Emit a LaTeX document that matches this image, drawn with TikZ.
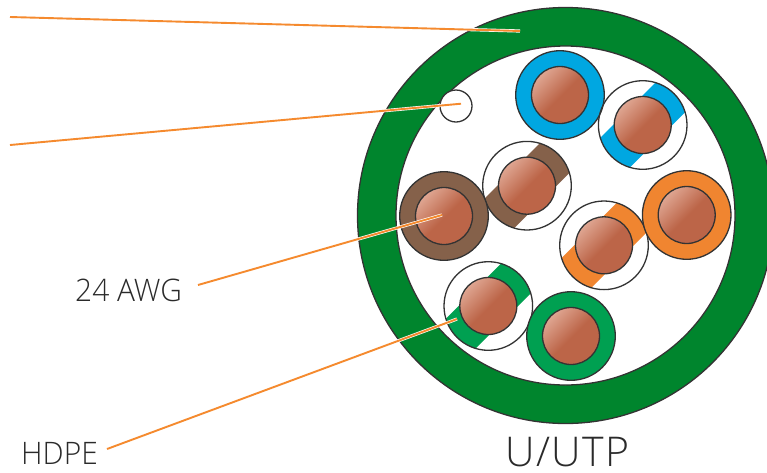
\documentclass[tikz,border=0pt]{standalone}
\usepackage{fontspec}
\setmainfont{Open Sans Light}
\newfontfamily\labelfont{Open Sans Light}[FakeStretch=0.965]
\newfontfamily\titlefont{Open Sans Light}[LetterSpace=3.5]
\definecolor{sheath}{HTML}{00852D}
\definecolor{inkc}{HTML}{333333}
\definecolor{textc}{HTML}{2A2A2A}
\definecolor{wblue}{HTML}{00A7E1}
\definecolor{worange}{HTML}{F08530}
\definecolor{wbrown}{HTML}{85614A}
\definecolor{wgreen}{HTML}{00A051}
\definecolor{cuD}{HTML}{BC6548}
\definecolor{cuL}{HTML}{DFA692}
\definecolor{leadc}{HTML}{F58A2E}
\pgfdeclareverticalshading{copper}{100bp}{color(0bp)=(cuD); color(49bp)=(cuD); color(75bp)=(cuL); color(100bp)=(cuL)}
\tikzset{
  outline/.style={draw=inkc,line width=1.3pt},
  core/.style={outline,shading=copper,shading angle=45},
  halo/.style={draw=white,line width=3.2pt},
  leader/.style={draw=leadc,line width=1.9pt},
  label/.style={inner sep=0pt,anchor=base west,text=textc,font=\labelfont\fontsize{31}{31}\selectfont}
}
\newcommand{\wiresolid}[3]{%
  \fill[#3] (#1,#2) circle[radius=44.3];
  \draw[outline] (#1,#2) circle[radius=44.3];
  \draw[core] (#1,#2) circle[radius=28.5];
}
\newcommand{\wirestripe}[3]{%
  \begin{scope}
    \clip (#1,#2) circle[radius=44.3];
    \fill[#3] ({#1+50.25},{#2-20.55}) -- ({#1+20.55},{#2-50.25}) -- ({#1-50.25},{#2+20.55}) -- ({#1-20.55},{#2+50.25}) -- cycle;
  \end{scope}
  \draw[outline] (#1,#2) circle[radius=44.3];
  \draw[core] (#1,#2) circle[radius=28.5];
}
\begin{document}
\begin{tikzpicture}[x=1pt,y=-1pt]
\useasboundingbox (0,0) rectangle (767,472);
\clip (0,0) rectangle (767,472);
\fill[white] (0,0) rectangle (767,472);
% cable jacket
\draw[outline,fill=sheath] (565.5,215.5) circle[radius=208];
\draw[outline,fill=white] (565.5,215.5) circle[radius=169.5];
\draw[outline,fill=white] (456,106) circle[radius=16];
% conductors
\wiresolid{560}{95}{wblue}
\wirestripe{642.7}{125}{wblue}
\wirestripe{527}{185.7}{wbrown}
\wiresolid{444}{216}{wbrown}
\wirestripe{604}{245.3}{worange}
\wiresolid{686.7}{215}{worange}
\wirestripe{488.3}{306}{wgreen}
\wiresolid{571}{336}{wgreen}
% leader ends
\coordinate (a1) at (10,17);
\coordinate (a2) at (520,31);
\coordinate (b1) at (10,145);
\coordinate (b2) at (461,103.7);
\coordinate (c1) at (198,285);
\coordinate (c2) at (442,215);
\coordinate (d1) at (107,449);
\coordinate (d2) at (457,319);
\foreach \s/\e in {a1/a2,b1/b2,c1/c2,d1/d2}{
  \draw[halo] (\s) -- (\e);
  \draw[leader] (\s) -- (\e);
}
% labels
\node[label] (awg) at (75,301) {24 AWG};
\node[label] (hdpe) at (21,464) {HDPE};
\node[label,font=\titlefont\fontsize{41}{41}\selectfont] (utp) at (505,466.5) {\smash{U/UTP}};
\end{tikzpicture}
\end{document}
